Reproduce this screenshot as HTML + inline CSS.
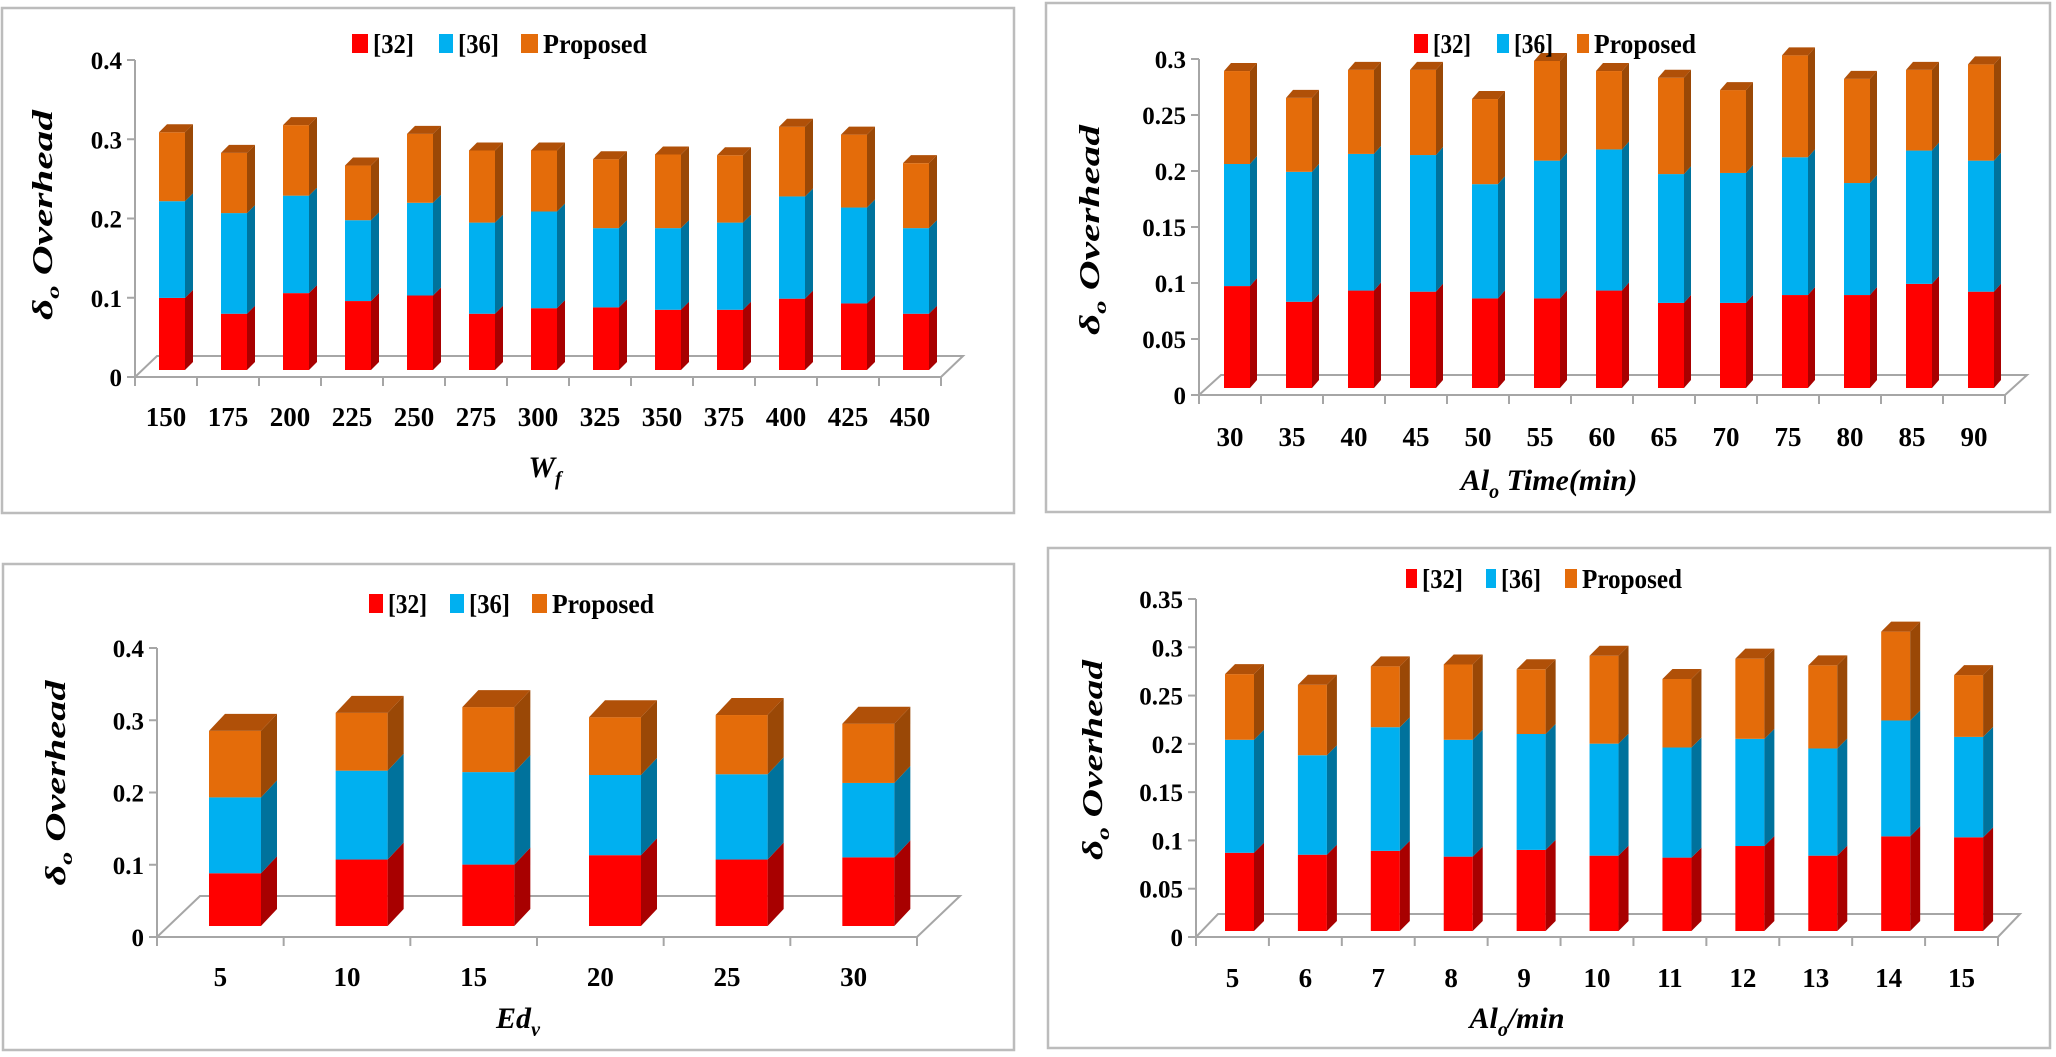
<!DOCTYPE html>
<html><head><meta charset="utf-8"><style>
html,body{margin:0;padding:0;background:#fff;}
svg{display:block;font-family:"Liberation Serif",serif;}
.tick{font-size:25px;font-weight:bold;fill:#000;}
.cat{font-size:27px;font-weight:bold;fill:#000;}
.leg{font-size:27px;font-weight:bold;fill:#000;}
.ytitle{font-size:28px;font-weight:bold;font-style:italic;fill:#000;}
.xtitle{font-size:30px;font-weight:bold;font-style:italic;fill:#000;}
</style></head><body>
<svg id="fig" width="2056" height="1057" viewBox="0 0 2056 1057" xmlns="http://www.w3.org/2000/svg"></svg>
<script>
// ---- chart 1 data (W_f) ----
const cats1 = ["150","175","200","225","250","275","300","325","350","375","400","425","450"];
const ref32_1 = [0.091,0.071,0.097,0.087,0.094,0.071,0.078,0.079,0.076,0.076,0.090,0.084,0.071];
const ref36_1 = [0.122,0.127,0.123,0.102,0.117,0.115,0.122,0.100,0.103,0.110,0.129,0.121,0.108];
const prop_1  = [0.087,0.076,0.089,0.069,0.087,0.091,0.077,0.087,0.093,0.085,0.088,0.092,0.082];
const ticks1 = ["0","0.1","0.2","0.3","0.4"];
// ---- chart 2 data (Al_o Time) ----
const cats2 = ["30","35","40","45","50","55","60","65","70","75","80","85","90"];
const ref32_2 = [0.091,0.077,0.087,0.086,0.080,0.080,0.087,0.076,0.076,0.083,0.083,0.093,0.086];
const ref36_2 = [0.109,0.116,0.122,0.122,0.102,0.123,0.126,0.115,0.116,0.123,0.100,0.119,0.117];
const prop_2  = [0.083,0.066,0.075,0.076,0.076,0.089,0.070,0.086,0.074,0.091,0.093,0.072,0.086];
const ticks2 = ["0","0.05","0.1","0.15","0.2","0.25","0.3"];
// ---- chart 3 data (Ed_v) ----
const cats3 = ["5","10","15","20","25","30"];
const ref32_3 = [0.073,0.092,0.085,0.098,0.092,0.095];
const ref36_3 = [0.105,0.123,0.128,0.111,0.118,0.103];
const prop_3  = [0.092,0.080,0.090,0.080,0.082,0.082];
const ticks3 = ["0","0.1","0.2","0.3","0.4"];
// ---- chart 4 data (Al_o/min) ----
const cats4 = ["5","6","7","8","9","10","11","12","13","14","15"];
const ref32_4 = [0.081,0.079,0.083,0.077,0.084,0.078,0.076,0.088,0.078,0.098,0.097];
const ref36_4 = [0.117,0.103,0.128,0.121,0.120,0.116,0.114,0.111,0.111,0.120,0.104];
const prop_4  = [0.068,0.073,0.063,0.078,0.067,0.091,0.071,0.083,0.086,0.092,0.064];
const ticks4 = ["0","0.05","0.1","0.15","0.2","0.25","0.3","0.35"];

const NS="http://www.w3.org/2000/svg";
const svg=document.getElementById('fig');
function mk(tag,attrs,parent){const e=document.createElementNS(NS,tag);for(const k in attrs)e.setAttribute(k,attrs[k]);(parent||svg).appendChild(e);return e;}

const COLS=[{f:"#ff0000",s:"#a80000",t:"#c00000"},{f:"#00b0f0",s:"#00729c",t:"#0090c0"},{f:"#e46c0a",s:"#9a4806",t:"#b05008"}];

function chart(cfg){
  const g=mk('g',{});
  
  
  const pb=mk('rect',{x:cfg.box[0],y:cfg.box[1],width:cfg.box[2]-cfg.box[0],height:cfg.box[3]-cfg.box[1],fill:'#fff',stroke:'#bcbcbc','stroke-width':2.5},g);
  
  
  const n=cfg.cats.length, pitch=cfg.L/n;
  const yv=v=>cfg.y0-v/cfg.vmax*(cfg.y0-cfg.ytop);
  const k=(cfg.y0-cfg.ytop)/cfg.vmax;
  // floor
  const fl=mk('polygon',{points:`${cfg.x0},${cfg.y0} ${cfg.x0+cfg.L},${cfg.y0} ${cfg.x0+cfg.L+cfg.fdx},${cfg.y0-cfg.fdy} ${cfg.x0+cfg.fdx},${cfg.y0-cfg.fdy}`,fill:'#fff',stroke:'#a6a6a6','stroke-width':2},g);
  
  
  // y axis
  const ya=mk('line',{x1:cfg.x0,y1:cfg.ytop,x2:cfg.x0,y2:cfg.y0,stroke:'#a6a6a6','stroke-width':2},g);
  
  
  cfg.ticks.forEach(t=>{
    const y=yv(parseFloat(t));
    mk('line',{x1:cfg.x0-8,y1:y,x2:cfg.x0,y2:y,stroke:'#a6a6a6','stroke-width':2},g);
    const tx=mk('text',{x:cfg.x0-13,y:y+9,'text-anchor':'end',class:'tick'},g);
    tx.textContent=t;
    
    
  });
  // x axis ticks
  for(let i=0;i<=n;i++){
    const x=cfg.x0+i*pitch;
    mk('line',{x1:x,y1:cfg.y0,x2:x,y2:cfg.y0+9,stroke:'#a6a6a6','stroke-width':2},g);
  }
  cfg.cats.forEach((c,i)=>{
    const tx=mk('text',{x:cfg.x0+(i+0.5)*pitch,y:cfg.labY+9,'text-anchor':'middle',class:'cat'},g);
    tx.textContent=c;
    
    
  });
  // bars
  const series=[cfg.a,cfg.b,cfg.c];
  cfg.cats.forEach((c,i)=>{
    const bx=cfg.x0+i*pitch+cfg.off, w=cfg.w, dx=cfg.bdx, dy=cfg.bdy;
    const base=cfg.y0-cfg.boff;
    let cum=0;
    series.forEach((s,si)=>{
      const yb=base-cum*k; cum+=s[i]; const yt=base-cum*k;
      const col=COLS[si];
      const fr=mk('rect',{x:bx,y:yt,width:w,height:yb-yt,fill:col.f},g);
      
      
      mk('polygon',{points:`${bx+w},${yb} ${bx+w},${yt} ${bx+w+dx},${yt-dy} ${bx+w+dx},${yb-dy}`,fill:col.s},g);
      if(si===2){
        mk('polygon',{points:`${bx},${yt} ${bx+w},${yt} ${bx+w+dx},${yt-dy} ${bx+dx},${yt-dy}`,fill:col.t},g);
      }
    });
  });
  // legend
  const lg=mk('g',{},g);
  
  
  const names=["[32]","[36]","Proposed"];
  cfg.leg.forEach((p,li)=>{
    mk('rect',{x:p[0],y:cfg.legY-9,width:p[1]-p[0]-5,height:19,fill:COLS[li].f},lg);
    const t=mk('text',{x:p[1],y:cfg.legY+10,class:'leg',textLength:p[2]-p[1],lengthAdjust:'spacingAndGlyphs'},lg);
    t.textContent=names[li];
    
    
  });
  // y title
  const yt=mk('text',{x:0,y:0,class:'ytitle','text-anchor':'middle',transform:`translate(${cfg.yt[0]+10},${cfg.yt[1]}) rotate(-90)`,textLength:cfg.yt[2],lengthAdjust:'spacingAndGlyphs'},g);
  yt.innerHTML='δ<tspan font-size="18" dy="7">o</tspan><tspan dy="-7"> Overhead</tspan>';
  
  
  const xt=mk('text',{x:cfg.xt[0],y:cfg.xt[1]+10,class:'xtitle','text-anchor':'middle'},g);
  xt.innerHTML=cfg.xtitle;
  
  
}

chart({name:'chart-wf',box:[2,8,1014,513],cats:cats1,a:ref32_1,b:ref36_1,c:prop_1,ticks:ticks1,vmax:0.4,
  x0:135,y0:377,ytop:60,L:806,off:24,w:26,bdx:8,bdy:8,boff:7,fdx:22,fdy:21,labY:417,
  leg:[[352,373,414],[439,458,499],[521,543,647]],legY:43,yt:[42,215,210],xt:[545,467],
  xtitle:'W<tspan font-size="20" dy="8">f</tspan>'});
chart({name:'chart-alo-time',box:[1046,3,2050,512],cats:cats2,a:ref32_2,b:ref36_2,c:prop_2,ticks:ticks2,vmax:0.3,
  x0:1199,y0:395,ytop:59,L:806,off:25,w:26,bdx:7,bdy:8,boff:7,fdx:22,fdy:20,labY:437,
  leg:[[1414,1433,1471],[1497,1514,1553],[1577,1594,1696]],legY:43,yt:[1089,230,210],xt:[1549,480],
  xtitle:'Al<tspan font-size="20" dy="8">o</tspan><tspan dy="-8"> Time(min)</tspan>'});
chart({name:'chart-edv',box:[3,564,1014,1050],cats:cats3,a:ref32_3,b:ref36_3,c:prop_3,ticks:ticks3,vmax:0.4,
  x0:157,y0:937,ytop:648,L:760,off:52,w:52,bdx:16,bdy:17,boff:11,fdx:43,fdy:41,labY:977,
  leg:[[369,388,427],[450,469,510],[532,552,654]],legY:603,yt:[55,783,205],xt:[518,1018],
  xtitle:'Ed<tspan font-size="20" dy="8">v</tspan>'});
chart({name:'chart-alo-min',box:[1048,548,2050,1048],cats:cats4,a:ref32_4,b:ref36_4,c:prop_4,ticks:ticks4,vmax:0.35,
  x0:1196,y0:937,ytop:599,L:802,off:29,w:29,bdx:10,bdy:10,boff:6,fdx:22,fdy:23,labY:978,
  leg:[[1406,1422,1463],[1486,1501,1541],[1565,1582,1682]],legY:578,yt:[1092,760,200],xt:[1517,1018],
  xtitle:'Al<tspan font-size="20" dy="8">o</tspan><tspan dy="-8">/min</tspan>'});
</script>
</body></html>
